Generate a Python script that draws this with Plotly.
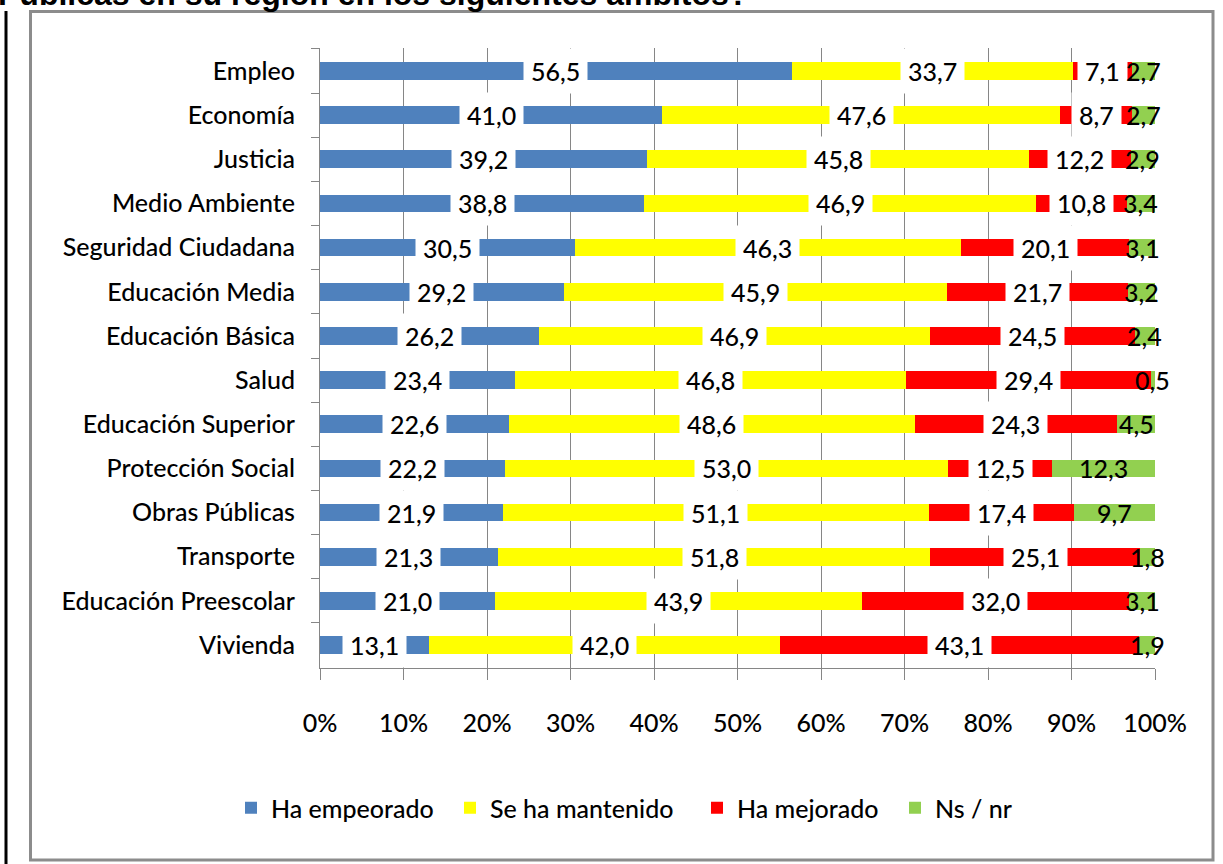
import plotly.graph_objects as go

categories = ["Empleo", "Economía", "Justicia", "Medio Ambiente", "Seguridad Ciudadana",
              "Educación Media", "Educación Básica", "Salud", "Educación Superior",
              "Protección Social", "Obras Públicas", "Transporte", "Educación Preescolar", "Vivienda"]
ha_empeorado = [56.5, 41.0, 39.2, 38.8, 30.5, 29.2, 26.2, 23.4, 22.6, 22.2, 21.9, 21.3, 21.0, 13.1]
se_ha_mantenido = [33.7, 47.6, 45.8, 46.9, 46.3, 45.9, 46.9, 46.8, 48.6, 53.0, 51.1, 51.8, 43.9, 42.0]
ha_mejorado = [7.1, 8.7, 12.2, 10.8, 20.1, 21.7, 24.5, 29.4, 24.3, 12.5, 17.4, 25.1, 32.0, 43.1]
ns_nr = [2.7, 2.7, 2.9, 3.4, 3.1, 3.2, 2.4, 0.5, 4.5, 12.3, 9.7, 1.8, 3.1, 1.9]

series_names = ["Ha empeorado", "Se ha mantenido", "Ha mejorado", "Ns / nr"]
series_values = [ha_empeorado, se_ha_mantenido, ha_mejorado, ns_nr]
colors = ["#4F81BD", "#FFFF00", "#FF0000", "#92D050"]
x_ticks = [0, 10, 20, 30, 40, 50, 60, 70, 80, 90, 100]
x_tick_labels = [f"{t}%" for t in x_ticks]
title_text = "Públicas en su región en los siguientes ámbitos?"

W, H = 1223, 864
L, R, T, B = 320, 1155, 48, 668
FONT = "Lato, Calibri, Carlito, sans-serif"
FS = 25
FW = 500


def px_x(px):
    return (px - L) / (R - L)


def px_y(py):
    return (B - py) / (B - T)


legend_ids = ["legend", "legend2", "legend3", "legend4"]
legend_px = [231, 450, 697, 895]

fig = go.Figure()
for name, vals, col, lid in zip(series_names, series_values, colors, legend_ids):
    fig.add_trace(go.Bar(
        y=categories, x=vals, name=name, orientation="h",
        marker=dict(color=col, line=dict(width=0)),
        hoverinfo="x+y+name", legend=lid,
    ))

# data labels centered in each (normalised) segment
annotations = []
for i, cat in enumerate(categories):
    total = sum(v[i] for v in series_values)
    cum = 0.0
    for s, vals in enumerate(series_values):
        v = vals[i] / total * 100
        center = cum + v / 2
        cum += v
        annotations.append(dict(
            x=center, y=cat, xref="x", yref="y",
            text=f"{vals[i]:.1f}".replace(".", ","),
            showarrow=False,
            font=dict(family=FONT, size=FS, color="black", weight=FW),
            bgcolor="white" if s < 3 else "rgba(0,0,0,0)",
            borderpad=7,
        ))

annotations.append(dict(
    x=px_x(-4), y=px_y(14), xref="paper", yref="paper",
    xanchor="left", yanchor="bottom", showarrow=False,
    text="<b>" + title_text + "</b>",
    font=dict(family="Liberation Sans, Arial, sans-serif", size=32, color="black"),
))

shapes = [
    dict(type="rect", xref="paper", yref="paper",
         x0=px_x(30.5), x1=px_x(1213), y0=px_y(860), y1=px_y(11.5),
         line=dict(color="#8C8C8C", width=3), fillcolor="rgba(0,0,0,0)", layer="below"),
    dict(type="line", xref="paper", yref="paper",
         x0=px_x(6), x1=px_x(6), y0=px_y(864), y1=px_y(11),
         line=dict(color="black", width=3)),
]

legend_common = dict(orientation="h", xanchor="left", yanchor="middle",
                     font=dict(family=FONT, size=FS, color="black", weight=FW),
                     itemclick=False, bgcolor="rgba(0,0,0,0)", borderwidth=0)
legends = {}
for lid, lx in zip(legend_ids, legend_px):
    legends[lid] = dict(x=px_x(lx), y=px_y(808), **legend_common)

tickfont = dict(family=FONT, size=FS, color="black", weight=FW)

fig.update_layout(
    width=W, height=H,
    barmode="stack", barnorm="percent", bargap=0.6,
    plot_bgcolor="white", paper_bgcolor="white",
    margin=dict(l=L, r=W - R, t=T, b=H - B, pad=0),
    font=dict(family=FONT, size=FS, color="black"),
    showlegend=True,
    annotations=annotations,
    shapes=shapes,
    xaxis=dict(range=[0, 100], tickmode="array", tickvals=x_ticks, ticktext=x_tick_labels,
               showgrid=True, gridcolor="#868686", gridwidth=1, showline=True,
               linecolor="#868686", linewidth=1, ticks="outside", ticklen=11,
               tickcolor="#868686", tickfont=tickfont,
               zeroline=False, ticklabelstandoff=22),
    yaxis=dict(autorange="reversed", showgrid=False, showline=True, linecolor="#868686",
               linewidth=1, ticks="outside", ticklen=8, tickcolor="#868686",
               tickson="boundaries", tickfont=tickfont,
               ticklabelstandoff=19),
    **legends,
)

fig.write_html("out.html", config={"displayModeBar": False},
               post_script="document.body.style.margin='0';document.body.style.overflow='hidden';")
